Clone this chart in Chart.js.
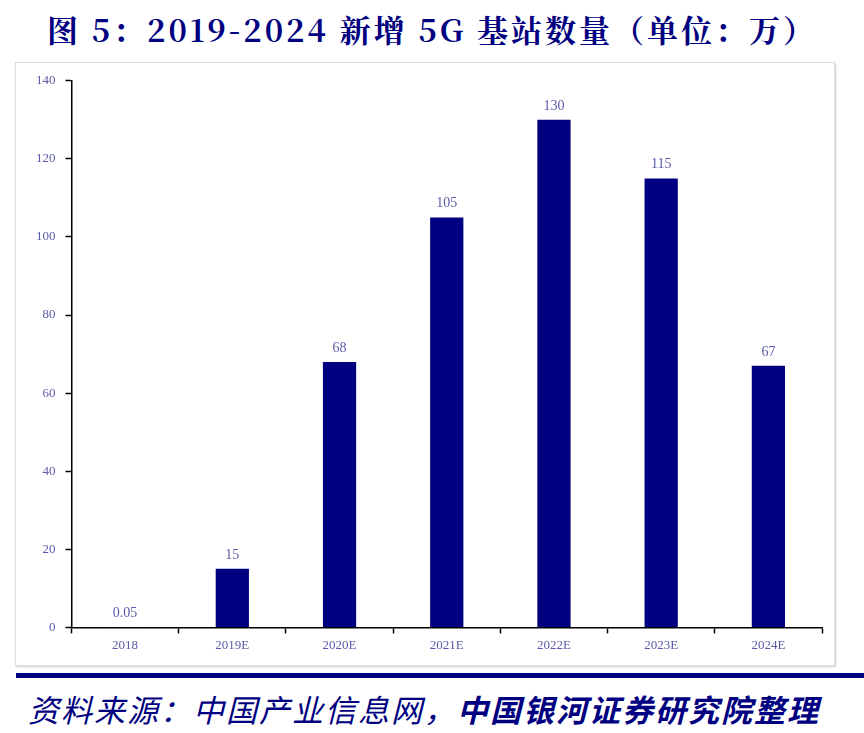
<!DOCTYPE html>
<html><head><meta charset="utf-8">
<script src="https://cdn.jsdelivr.net/npm/chart.js@4"></script>
<style>
body{margin:0;width:864px;height:733px;background:#fff;position:relative;overflow:hidden}
#title{position:absolute;left:0;top:6px;width:864px;text-align:center;font:bold 31px "Noto Serif CJK SC","Noto Sans CJK SC",serif;color:#000080;letter-spacing:3px}
#box{position:absolute;left:15px;top:62px;width:818px;height:602px;border:1px solid #ddd;box-shadow:1px 1px 2px #ccc}
#rule{position:absolute;left:16px;top:673px;width:848px;height:5px;background:#000080}
#src{position:absolute;left:28px;top:686px;font:italic 31px "Noto Sans CJK SC",serif;color:#000080;letter-spacing:2px}
#src b{font-weight:bold}
</style></head><body>
<div id="title">图 5：2019-2024 新增 5G 基站数量（单位：万）</div>
<div id="box"><canvas id="c" width="818" height="602"></canvas></div>
<div id="rule"></div>
<div id="src">资料来源：中国产业信息网，<b>中国银河证券研究院整理</b></div>
<script>
const categories = ["2018","2019E","2020E","2021E","2022E","2023E","2024E"];
const values = [0.05, 15, 68, 105, 130, 115, 67];
const valueLabels = ["0.05","15","68","105","130","115","67"];
const tickColor = "#5a5aa8";
const font = {family: "'Liberation Serif','DejaVu Serif',serif", size: 13};

const labelPlugin = {
  id: "labels",
  afterDatasetsDraw(chart) {
    const ctx = chart.ctx;
    ctx.save();
    ctx.fillStyle = tickColor;
    ctx.font = "14px 'Liberation Serif',serif";
    ctx.textAlign = "center";
    chart.getDatasetMeta(0).data.forEach((bar, i) => {
      ctx.fillText(valueLabels[i], bar.x, bar.y - 10);
    });
    ctx.restore();
  }
};

new Chart(document.getElementById("c"), {
  type: "bar",
  data: {labels: categories, datasets: [{data: values, backgroundColor: "#000080", barPercentage: 0.31, categoryPercentage: 1}]},
  options: {
    responsive: false, animation: false,
    layout: {padding: {left: 10, right: 12, top: 12, bottom: 8}},
    plugins: {legend: {display: false}, tooltip: {enabled: false}},
    scales: {
      x: {
        grid: {display: true, drawOnChartArea: false, offset: true, color: "#000", tickLength: 6, tickWidth: 1.5},
        border: {color: "#000", width: 1.5},
        ticks: {color: tickColor, font, padding: 4}
      },
      y: {
        min: 0, max: 140,
        grid: {display: true, drawOnChartArea: false, color: "#000", tickLength: 6, tickWidth: 1.5},
        border: {color: "#000", width: 1.5},
        ticks: {stepSize: 20, color: tickColor, font, padding: 10}
      }
    }
  },
  plugins: [labelPlugin]
});
</script>
</body></html>
